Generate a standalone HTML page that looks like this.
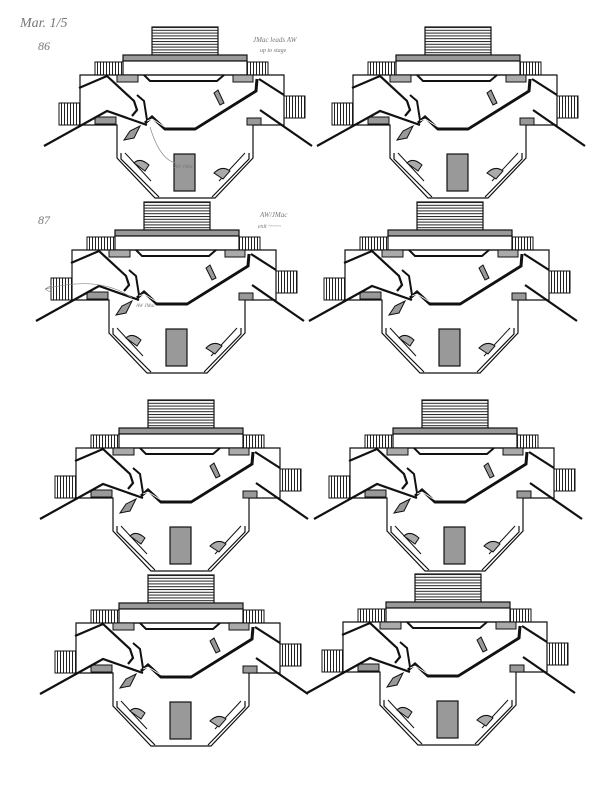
<!DOCTYPE html>
<html><head><meta charset="utf-8"><style>
html,body{margin:0;padding:0;background:#fff;}
svg{display:block}
.hw{font-family:"Liberation Serif",serif;fill:#777;font-style:italic}
</style></head><body>
<svg width="613" height="800" viewBox="0 0 613 800" xmlns="http://www.w3.org/2000/svg">
<defs>
<pattern id="hs" width="66" height="2.8" patternUnits="userSpaceOnUse"><rect width="66" height="1" fill="#222"/></pattern>
<pattern id="vs" width="3" height="20" patternUnits="userSpaceOnUse"><rect width="1" height="20" fill="#222"/></pattern>
<g id="plan" fill="none" stroke="#111" stroke-linejoin="miter">
  <rect x="115" y="14" width="66" height="28" fill="url(#hs)" stroke-width="1.2"/>
  <rect x="86" y="42" width="124" height="6" fill="#999" stroke-width="1.2"/>
  <rect x="86" y="48" width="124" height="14" fill="#fff" stroke-width="1.2"/>
  <rect x="58" y="49" width="28" height="13" fill="url(#vs)" stroke-width="1"/>
  <rect x="210" y="49" width="21" height="13" fill="url(#vs)" stroke-width="1"/>
  <rect x="22" y="90" width="21" height="22" fill="url(#vs)" stroke-width="1"/>
  <rect x="247" y="83" width="21" height="22" fill="url(#vs)" stroke-width="1"/>
  <polyline points="80,135 80,112 43,112 43,62 247,62 247,112 216,112 216,135" stroke-width="1.2"/>
  <polyline points="80,135 80,145 118,185 178,185 216,145 216,135" stroke-width="1.2"/>
  <polyline points="84,140 84,146 122,184" stroke-width="1.2"/>
  <polyline points="212,140 212,146 175,184" stroke-width="1.2"/>
  <line x1="88" y1="140" x2="114" y2="168" stroke-width="1"/>
  <line x1="208" y1="140" x2="182" y2="168" stroke-width="1"/>
  <rect x="58" y="104" width="21" height="7" fill="#999" stroke-width="1"/>
  <rect x="210" y="105" width="14" height="7" fill="#999" stroke-width="1"/>
  <rect x="80" y="62" width="21" height="7" fill="#aaa" stroke-width="1"/>
  <rect x="196" y="62" width="20" height="7" fill="#aaa" stroke-width="1"/>
  <polyline points="107,62 113,68 180,68 187,62" stroke-width="2"/>
  <rect x="137" y="141" width="21" height="37" fill="#999" stroke-width="1.2"/>
  <polyline points="7,133 70,98 110,112" stroke-width="2.2"/>
  <polyline points="42,75 70,63 97,88 100,97 95,103" stroke-width="2.2"/>
  <polyline points="100,82 107,88 110,107" stroke-width="2"/>
  <polyline points="108,110 115,104 128,116 158,116 219,78 220,66" stroke-width="3"/>
  <polyline points="110,108 115,106 128,114 158,114 217,77" stroke="#fff" stroke-width="0.8"/>
  <line x1="222" y1="66" x2="247" y2="82" stroke-width="2.2"/>
  <line x1="223" y1="97" x2="275" y2="133" stroke-width="2.2"/>
  <polygon points="87,127 93,118 103,113 97,125" fill="#999" stroke-width="1"/>
  <polygon points="177,80 181,77 187,90 183,92" fill="#999" stroke-width="1"/>
  <path d="M97,150 Q103,144 112,152 L108,158 Z" fill="#aaa" stroke-width="1"/>
  <path d="M177,160 Q185,152 193,158 L186,166 Z" fill="#aaa" stroke-width="1"/>
</g>
</defs>
<use href="#plan" transform="translate(37,13)"/>
<use href="#plan" transform="translate(310,13)"/>
<use href="#plan" transform="translate(29,188)"/>
<use href="#plan" transform="translate(302,188)"/>
<use href="#plan" transform="translate(33,386)"/>
<use href="#plan" transform="translate(307,386)"/>
<use href="#plan" transform="translate(33,561)"/>
<use href="#plan" transform="translate(300,560)"/>
<text class="hw" x="20" y="27" font-size="14">Mar. 1/5</text>
<text class="hw" x="38" y="50" font-size="12">86</text>
<text class="hw" x="38" y="224" font-size="12">87</text>
<text class="hw" x="253" y="42" font-size="7">JMac leads AW</text>
<text class="hw" x="260" y="52" font-size="6">up to stage</text>
<text class="hw" x="260" y="217" font-size="7">AW/JMac</text>
<text class="hw" x="258" y="228" font-size="6">exit ~~~~</text>
<text class="hw" x="174" y="168" font-size="5">AW JMac</text>
<text class="hw" x="136" y="307" font-size="5">AW JMac</text>
<path d="M150,127 Q160,160 176,163" fill="none" stroke="#888" stroke-width="0.7"/>
<path d="M132,298 Q100,275 45,289 M45,289 L52,285 M45,289 L52,293" fill="none" stroke="#888" stroke-width="0.7"/>
</svg>
</body></html>
